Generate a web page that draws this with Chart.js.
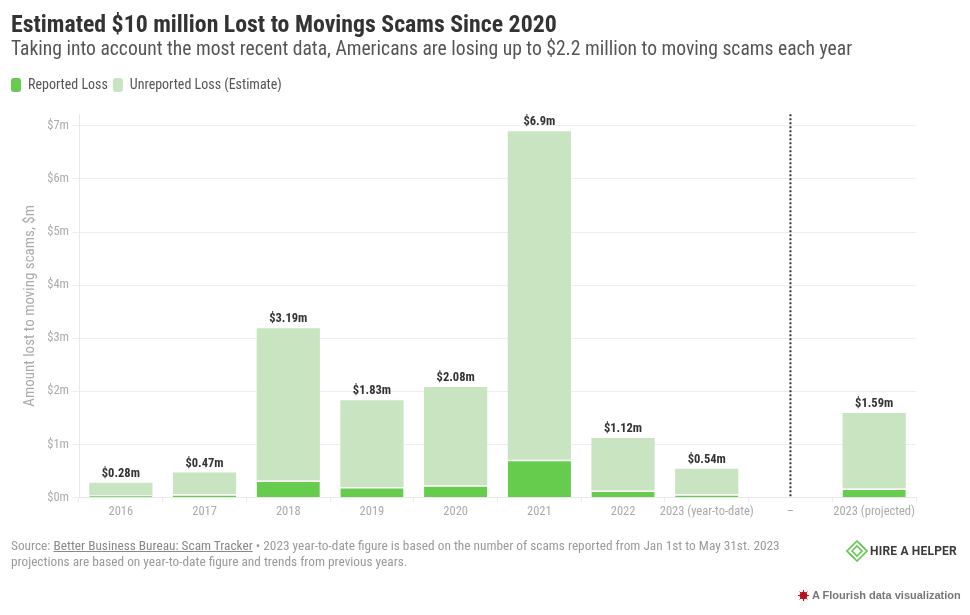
<!DOCTYPE html>
<html><head><meta charset="utf-8">
<script src="https://cdn.jsdelivr.net/npm/chart.js@4"></script>
<style>
html,body{margin:0;padding:0;background:#fff;width:970px;height:615px;overflow:hidden}
body{position:relative;font-family:Roboto,sans-serif;font-stretch:75%}
canvas{position:absolute;left:0;top:0}
.t{position:absolute;white-space:nowrap}
#title{left:11px;top:10px;font-size:23.8px;font-weight:700;color:#333;line-height:28px}
#sub{left:11px;top:35px;font-size:19.6px;color:#555;line-height:28px}
#foot{left:11px;top:538px;font-size:13.3px;color:#9a9a9a;line-height:16px}
#foot u{color:#888}
#logo{left:846px;top:540px}
#brand{left:870px;top:544px;font:700 12px Roboto,sans-serif;font-stretch:100%;color:#3a3a3a;letter-spacing:.2px}
#flo{left:812px;top:589px;font:700 11px "Liberation Sans",Arial,sans-serif;font-stretch:100%;color:#777}
#spl{left:798px;top:590px}
</style></head><body>
<canvas id="c" width="970" height="615" style="width:970px;height:615px"></canvas>
<div class="t" id="title">Estimated $10 million Lost to Movings Scams Since 2020</div>
<div class="t" id="sub">Taking into account the most recent data, Americans are losing up to $2.2 million to moving scams each year</div>
<div class="t" id="foot">Source: <u>Better Business Bureau: Scam Tracker</u> • 2023 year-to-date figure is based on the number of scams reported from Jan 1st to May 31st. 2023<br>projections are based on year-to-date figure and trends from previous years.</div>
<svg class="t" id="logo" width="22" height="22" viewBox="0 0 22 22" fill="none" stroke="#66c752" stroke-width="1.6"><path d="M11 1 21 11 11 21 1 11Z"/><path d="M13 3 19 9M9 19 3 13M6 11 11 6 16 11 11 16Z"/></svg>
<div class="t" id="brand">HIRE A HELPER</div>
<svg class="t" id="spl" width="11" height="11" viewBox="0 0 11 11"><circle cx="5.5" cy="5.5" r="3.8" fill="#b5121b"/><path d="M5.5 0V11M0 5.5H11M1.6 1.6 9.4 9.4M9.4 1.6 1.6 9.4" stroke="#b5121b" stroke-width="1"/></svg>
<div class="t" id="flo">A Flourish data visualization</div>
<script>
const categories=["2016","2017","2018","2019","2020","2021","2022","2023 (year-to-date)","–","2023 (projected)"];
const reportedLoss=[0.04,0.06,0.32,0.2,0.23,0.71,0.13,0.06,null,0.17];
const unreportedLoss=[0.24,0.41,2.87,1.63,1.85,6.19,0.99,0.48,null,1.42];
const totalLabels=["$0.28m","$0.47m","$3.19m","$1.83m","$2.08m","$6.9m","$1.12m","$0.54m",null,"$1.59m"];
const yTicks=[0,1,2,3,4,5,6,7];
const dividerCategory="–";
const GREEN="#66cc4d",PALE="#c8e4c0";
const legendGap={id:'legendGap',beforeInit(ch){
  const f=ch.legend.fit;
  ch.legend.fit=function(){f.call(this);this.height+=12.2;};
}};
const overlays={id:'overlays',afterDatasetsDraw(ch){
  const {ctx,scales:{x,y}}=ch;
  ctx.save();
  ctx.font='condensed 700 12.5px Roboto';ctx.fillStyle='#333';ctx.textAlign='center';ctx.textBaseline='alphabetic';
  categories.forEach((c,i)=>{
    if(!totalLabels[i])return;
    const top=y.getPixelForValue(reportedLoss[i]+unreportedLoss[i]);
    ctx.fillText(totalLabels[i],x.getPixelForValue(i),top-6);
  });
  const dx=x.getPixelForValue(categories.indexOf(dividerCategory));
  ctx.strokeStyle='#333';ctx.lineWidth=2;ctx.setLineDash([2,2]);
  ctx.beginPath();ctx.moveTo(dx,ch.chartArea.top);ctx.lineTo(dx,ch.chartArea.bottom);ctx.stroke();
  ctx.restore();
}};
Chart.defaults.font.family='Roboto';
const condensed=size=>({size,weight:'condensed'});
new Chart(document.getElementById('c'),{
  type:'bar',
  plugins:[legendGap,overlays],
  data:{labels:categories,datasets:[
    {label:'Reported Loss',data:reportedLoss,backgroundColor:GREEN,borderColor:'#fff',borderWidth:{top:1.5},borderSkipped:false},
    {label:'Unreported Loss (Estimate)',data:unreportedLoss,backgroundColor:PALE,borderWidth:0}
  ]},
  options:{
    responsive:false,animation:false,devicePixelRatio:1,
    barPercentage:.755,categoryPercentage:1,
    layout:{padding:{left:6,right:54,top:73,bottom:97.5}},
    plugins:{
      tooltip:{enabled:false},
      legend:{position:'top',align:'start',
        labels:{boxWidth:10,boxHeight:14,padding:5,color:'#555',font:condensed(14),
          generateLabels(ch){return ch.data.datasets.map((d,i)=>({text:d.label,fillStyle:d.backgroundColor,strokeStyle:d.backgroundColor,lineWidth:0,datasetIndex:i,borderRadius:3,fontColor:'#555'}));},
          useBorderRadius:true,borderRadius:3}}
    },
    scales:{
      x:{stacked:true,
        afterFit(s){s.height=20;},
        grid:{drawOnChartArea:false,color:'#eee',tickLength:5},
        border:{color:'#e8e8e8'},
        ticks:{color:'#aaa',font:condensed(12.5),autoSkip:false,maxRotation:0,padding:2}},
      y:{stacked:true,min:0,max:7.22,
        afterBuildTicks(s){s.ticks=yTicks.map(v=>({value:v}));},
        afterFit(s){s.width=73;},
        title:{display:true,text:'Amount lost to moving scams, $m',color:'#aaa',font:condensed(15),padding:{top:15,bottom:4}},
        grid:{color:'#eee',tickLength:7},
        border:{color:'#e8e8e8'},
        ticks:{color:'#aaa',font:condensed(12.5),padding:3,callback:v=>'$'+v+'m'}}
    }
  }
});
</script>
</body></html>
